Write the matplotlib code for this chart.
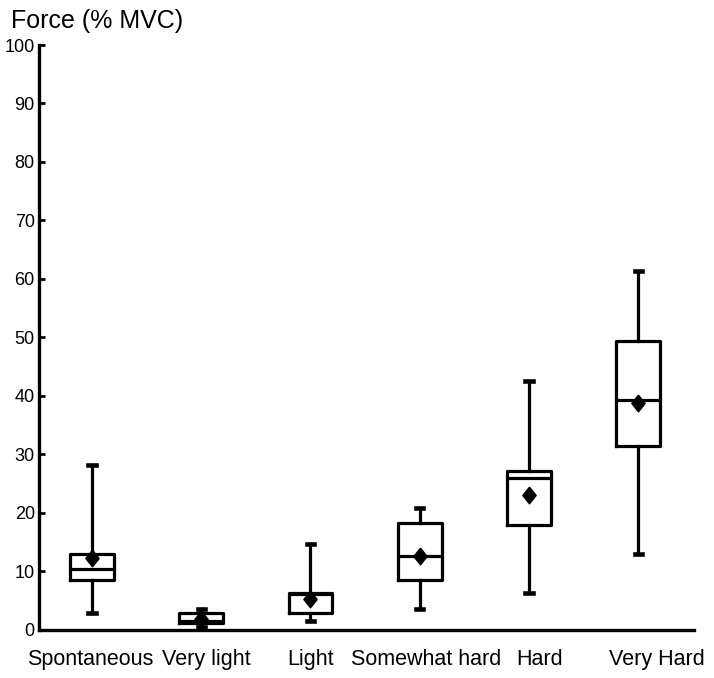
import matplotlib
matplotlib.use("Agg")
import matplotlib.pyplot as plt

CATEGORIES = ["Spontaneous", "Very light", "Light", "Somewhat hard", "Hard", "Very Hard"]
WHISKER_LOW = [2.9, 0.4, 1.45, 3.5, 6.2, 12.9]
Q1 = [8.4, 1.2, 2.9, 8.5, 17.9, 31.4]
MEDIAN = [10.35, 1.5, 6.0, 12.5, 26.0, 39.2]
Q3 = [13.0, 2.8, 6.2, 18.3, 27.2, 49.4]
WHISKER_HIGH = [28.1, 3.5, 14.6, 20.8, 42.6, 61.3]
MEAN = [12.2, 1.8, 5.3, 12.6, 23.1, 38.7]
Y_TICKS = [0, 10, 20, 30, 40, 50, 60, 70, 80, 90, 100]

# small horizontal nudges of the category labels (as in the original figure)
LABEL_SHIFT = [-0.02, 0.05, 0.0, 0.06, 0.1, 0.17]

plt.rcParams["font.family"] = ["Liberation Sans", "DejaVu Sans"]

stats = []
for i, name in enumerate(CATEGORIES):
    stats.append({
        "label": name,
        "whislo": WHISKER_LOW[i],
        "q1": Q1[i],
        "med": MEDIAN[i],
        "q3": Q3[i],
        "whishi": WHISKER_HIGH[i],
        "mean": MEAN[i],
        "fliers": [],
    })

fig = plt.figure(figsize=(7.14, 6.78), dpi=100)
ax = fig.add_axes([0.0546, 0.0715, 0.9174, 0.8621])

lw = 2.3
diamond = [(0, 1), (0.8, 0), (0, -1), (-0.8, 0), (0, 1)]
positions = list(range(1, len(CATEGORIES) + 1))
ax.bxp(
    stats,
    positions=positions,
    widths=0.40,
    capwidths=0.065,
    showmeans=True,
    showfliers=False,
    boxprops=dict(color="black", linewidth=lw),
    medianprops=dict(color="black", linewidth=lw),
    whiskerprops=dict(color="black", linewidth=lw),
    capprops=dict(color="black", linewidth=lw + 1),
    meanprops=dict(marker=diamond, markerfacecolor="black", markeredgecolor="black",
                   markersize=12),
)

ax.set_xlim(0.515, 6.51)
ax.set_ylim(0, 100)
ax.set_yticks(Y_TICKS)
ax.set_xticks([p + s for p, s in zip(positions, LABEL_SHIFT)])
ax.set_xticklabels(CATEGORIES)

for side in ("top", "right"):
    ax.spines[side].set_visible(False)
for side in ("left", "bottom"):
    ax.spines[side].set_linewidth(2.4)

ax.tick_params(axis="y", direction="in", length=4, width=2, labelsize=13, pad=3)
ax.tick_params(axis="x", length=0, labelsize=15.5, pad=14)

fig.text(0.016, 0.958, "Force (% MVC)", fontsize=18, ha="left", va="baseline")

fig.savefig("out.png", dpi=100)
